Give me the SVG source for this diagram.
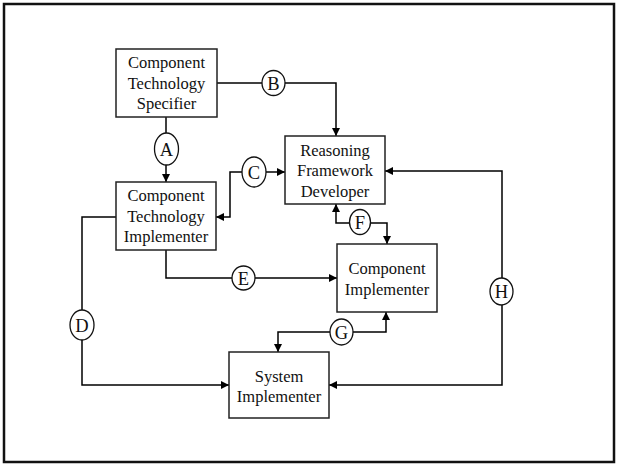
<svg xmlns="http://www.w3.org/2000/svg" width="618" height="466" viewBox="0 0 618 466">
<defs>
<marker id="arr" viewBox="0 0 10 10" refX="10" refY="5" markerWidth="8" markerHeight="8" markerUnits="userSpaceOnUse" orient="auto">
<path d="M0,0 L10,5 L0,10 z" fill="#000"/>
</marker>
<style>
.box{fill:#fff;stroke:#222;stroke-width:1.5}
.t{font-family:"Liberation Serif","Times New Roman",serif;font-size:16.5px;fill:#111;text-anchor:middle}
.c{fill:#fff;stroke:#111;stroke-width:1.3}
.l{font-family:"Liberation Serif","Times New Roman",serif;font-size:18.5px;fill:#111;text-anchor:middle}
.e{fill:none;stroke:#000;stroke-width:1.5}
.a{marker-end:url(#arr)}
</style>
</defs>
<rect x="0" y="0" width="618" height="466" fill="#fff"/>
<rect x="4" y="4" width="610" height="458" fill="none" stroke="#111" stroke-width="2.5"/>
<g id="connectors">
<path class="e" d="M166,117 V133"/>
<path class="e a" d="M166,165 V182"/>
<path class="e" d="M217,83 H262"/>
<path class="e a" d="M285,83 H336 V136"/>
<path class="e a" d="M266,172 H285"/>
<path class="e a" d="M242,172 H230 V217 H216"/>
<path class="e" d="M116,217 H82 V310"/>
<path class="e a" d="M82,340 V385 H229"/>
<path class="e" d="M166,250 V278 H232"/>
<path class="e a" d="M255,278 H337"/>
<path class="e a" d="M350,223 H336 V204"/>
<path class="e a" d="M370,223 H387 V244"/>
<path class="e a" d="M353,332 H386 V312"/>
<path class="e a" d="M330,332 H278 V352"/>
<path class="e a" d="M502,278 V171 H385"/>
<path class="e a" d="M502,305 V385 H329"/>
</g>
<g id="lbl-A"><ellipse class="c" cx="166.5" cy="149" rx="12" ry="16"/><text class="l" x="166.5" y="155.5">A</text></g>
<g id="lbl-B"><ellipse class="c" cx="273.5" cy="83" rx="11.5" ry="12.5"/><text class="l" x="273.5" y="89.5">B</text></g>
<g id="lbl-C"><ellipse class="c" cx="254" cy="172" rx="12" ry="15"/><text class="l" x="254" y="178.5">C</text></g>
<g id="lbl-D"><ellipse class="c" cx="82" cy="325" rx="12" ry="15"/><text class="l" x="82" y="331.5">D</text></g>
<g id="lbl-E"><ellipse class="c" cx="243.5" cy="278" rx="11.5" ry="12"/><text class="l" x="243.5" y="284.5">E</text></g>
<g id="lbl-F"><ellipse class="c" cx="360" cy="222" rx="10.5" ry="12.5"/><text class="l" x="360" y="228.5">F</text></g>
<g id="lbl-G"><ellipse class="c" cx="341.5" cy="332" rx="11.5" ry="13"/><text class="l" x="341.5" y="338.5">G</text></g>
<g id="lbl-H"><ellipse class="c" cx="501.5" cy="291.5" rx="11.5" ry="13.5"/><text class="l" x="501.5" y="298">H</text></g>
<g id="cts"><rect class="box" x="116" y="49" width="101" height="68"/>
<text class="t" x="166.5" y="68">Component</text><text class="t" x="166.5" y="89">Technology</text><text class="t" x="166.5" y="109">Specifier</text></g>
<g id="cti"><rect class="box" x="116" y="182" width="100" height="68"/>
<text class="t" x="166" y="201">Component</text><text class="t" x="166" y="222">Technology</text><text class="t" x="166" y="242">Implementer</text></g>
<g id="rfd"><rect class="box" x="285" y="136" width="100" height="68"/>
<text class="t" x="335" y="156">Reasoning</text><text class="t" x="335" y="176">Framework</text><text class="t" x="335" y="197">Developer</text></g>
<g id="ci"><rect class="box" x="337" y="244" width="100" height="68"/>
<text class="t" x="387" y="274">Component</text><text class="t" x="387" y="295">Implementer</text></g>
<g id="si"><rect class="box" x="229" y="352" width="100" height="66"/>
<text class="t" x="279" y="382">System</text><text class="t" x="279" y="402">Implementer</text></g>
</svg>
